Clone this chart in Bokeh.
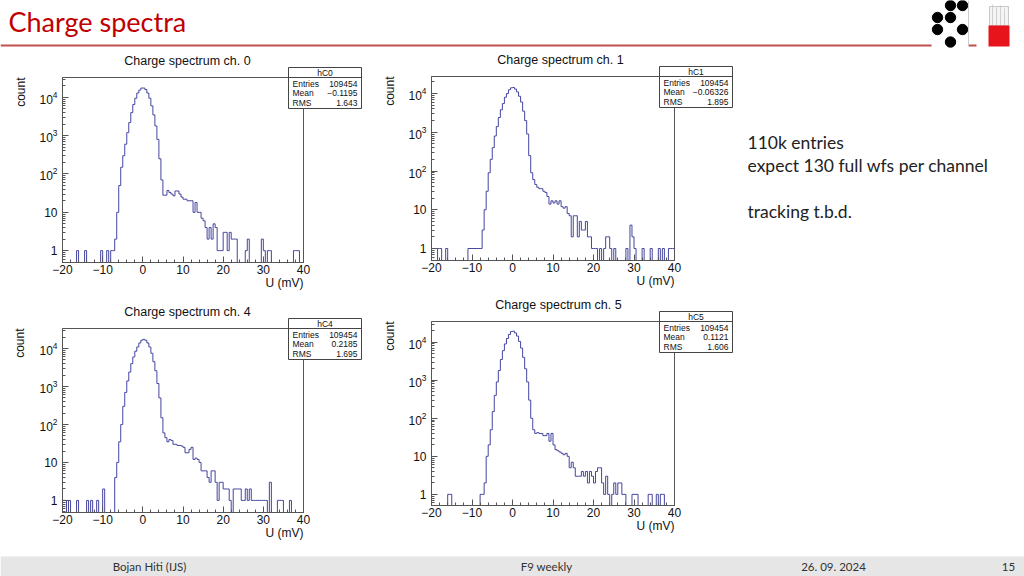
import math
from bokeh.plotting import figure
from bokeh.models import (Range1d, SingleIntervalTicker, LogTicker, LogTickFormatter)
from bokeh.layouts import row, column
from bokeh.embed import file_html
from bokeh.resources import INLINE
from bokeh.core.properties import value

# ---------------- data ----------------
X_MIN, X_MAX, BIN_W = -20.0, 40.0, 0.5
N_BINS = 120

counts_ch0 = [0,0,0,0,0,0,0,1,0,0,
              0,1,0,0,0,0,0,0,0,1,
              0,0,1,0,1,1,2,10,50,150,
              300,600,1200,2200,4000,6500,9500,13000,15500,17500,
              17500,16000,13000,9500,6000,3500,1800,800,250,70,
              28,28,37,33,30,27,36,36,30,25,
              22,22,20,20,20,10,18,10,10,7,
              6,4,2,4,2,5,4,1,1,1,
              3,3,1,3,2,2,2,0,0,0,
              0,1,2,0,0,0,0,0,0,2,
              1,0,1,1,0,0,0,0,0,0,
              0,0,0,0,0,1,1,1,0,0]
counts_ch1 = [0,0,0,1,1,0,0,1,0,0,
              0,0,0,0,0,0,0,0,1,1,
              1,1,1,1,1,3,10,30,90,200,
              400,800,1400,2400,3800,5500,8000,10000,12500,14000,
              14300,13000,11000,8500,6000,3500,2000,900,250,90,
              60,45,38,35,35,30,28,22,14,17,
              15,17,14,17,12,11,12,8,7,2,
              7,7,2,5,3,3,5,2,2,1,
              1,1,0,1,0,1,2,2,1,0,
              1,0,0,0,0,0,1,0,4,2,
              1,0,0,0,1,0,0,0,1,0,
              0,0,1,0,1,0,0,1,1,1]
counts_ch4 = [1,1,0,1,0,0,0,1,0,0,
              0,0,1,0,1,0,0,1,0,0,
              2,0,0,0,0,0,4,10,35,100,
              300,700,1400,2400,4000,6000,8500,11000,14000,16500,
              17500,16500,14000,11000,7500,4500,2600,1200,500,150,
              60,45,35,40,38,30,30,28,28,27,
              25,18,18,22,25,12,13,12,10,6,
              6,6,4,3,6,6,3,1,3,3,
              2,2,2,1,0,2,2,2,2,1,
              1,2,1,2,1,1,1,1,1,1,
              1,1,0,3,0,0,0,1,1,1,
              0,0,0,1,0,0,0,0,0,0]
counts_ch5 = [0,0,0,0,0,0,0,0,1,1,
              0,0,0,0,0,0,0,0,0,0,
              0,0,0,0,1,1,2,10,20,50,
              150,400,900,1800,3500,6000,9000,12500,16000,19000,
              19500,17500,14500,10500,7000,4000,2000,900,300,100,
              50,40,42,40,40,35,35,40,25,40,
              20,15,14,13,12,11,12,10,5,7,
              5,3,3,3,4,3,4,2,4,3,
              2,4,5,5,2,1,3,1,0,1,
              2,1,2,2,1,1,0,0,0,1,
              1,1,0,0,0,0,0,1,1,0,
              0,1,0,1,1,0,0,0,0,0]

channel_titles = ["Charge spectrum ch. 0", "Charge spectrum ch. 1",
                  "Charge spectrum ch. 4", "Charge spectrum ch. 5"]
stat_names = ["hC0", "hC1", "hC4", "hC5"]
stat_entries = ["109454", "109454", "109454", "109454"]
stat_means = ["\u22120.1195", "\u22120.06326", "0.2185", "0.1121"]
stat_rms = ["1.643", "1.895", "1.695", "1.606"]
stat_labels = ["Entries", "Mean", "RMS"]
x_tick_overrides = {-20: "\u221220", -10: "\u221210"}
x_axis_title = "U (mV)"
y_axis_title = "count"

notes = ["110k entries", "expect 130 full wfs per channel", "tracking t.b.d."]
footer_texts = ["Bojan Hiti (IJS)", "F9 weekly", "26. 09. 2024", "15"]
slide_title = "Charge spectra"

# ---------------- layout (page pixel geometry) ----------------
PAGE_W, PAGE_H = 1024, 576
PANELS = [
    dict(fx=0,   fy=0,   w=380, h=298, L=62,  R=303, T=77,  B=262, ylo=0.49, yhi=33000, tx=187),
    dict(fx=380, fy=0,   w=360, h=293, L=431, R=674, T=76,  B=260, ylo=0.49, yhi=27500, tx=560),
    dict(fx=0,   fy=298, w=380, h=278, L=61,  R=303, T=328, B=512, ylo=0.48, yhi=33700, tx=187),
    dict(fx=380, fy=293, w=360, h=283, L=431, R=674, T=321, B=505, ylo=0.51, yhi=35000, tx=558),
]

ROOT_FONT = "Liberation Sans"
HIST_COLOR = "#45459f"
FRAME_COLOR = "#555555"
TEXT_COLOR = "#111111"


def hist_fig(counts, g):
    p = figure(width=g["w"], height=g["h"], title=None,
               x_range=Range1d(X_MIN, X_MAX), y_range=Range1d(g["ylo"], g["yhi"]),
               y_axis_type="log", output_backend="svg", toolbar_location=None,
               min_border_left=g["L"] - g["fx"], min_border_right=g["fx"] + g["w"] - g["R"],
               min_border_top=g["T"] - g["fy"], min_border_bottom=g["fy"] + g["h"] - g["B"])
    p.grid.visible = False
    p.outline_line_color = FRAME_COLOR
    p.outline_line_width = 1
    p.background_fill_color = "white"
    p.border_fill_color = "white"

    edges = [X_MIN + BIN_W * i for i in range(N_BINS + 1)]
    ys = list(counts) + [counts[-1]]
    ys = [c if c > 0 else 0.01 for c in ys]
    p.step(x=edges, y=ys, mode="after", line_color=HIST_COLOR, line_width=1)

    xa = p.xaxis[0]
    xa.ticker = SingleIntervalTicker(interval=10, num_minor_ticks=5)
    xa.major_label_overrides = x_tick_overrides
    ya = p.yaxis[0]
    ya.ticker = LogTicker(num_minor_ticks=10)
    ya.formatter = LogTickFormatter(min_exponent=2)
    for ax in (xa, ya):
        ax.axis_line_color = FRAME_COLOR
        ax.major_tick_line_color = FRAME_COLOR
        ax.minor_tick_line_color = FRAME_COLOR
        ax.major_tick_in = 6
        ax.major_tick_out = 0
        ax.minor_tick_in = 3
        ax.minor_tick_out = 0
        ax.major_label_text_font = ROOT_FONT
        ax.major_label_text_font_size = "12px"
        ax.major_label_text_color = TEXT_COLOR
    xa.major_label_standoff = 2
    ya.major_label_standoff = 5
    return p


all_counts = [counts_ch0, counts_ch1, counts_ch4, counts_ch5]
figs = [hist_fig(all_counts[i], PANELS[i]) for i in range(4)]

# ---------------- transparent overlay with all slide texts / boxes ----------------
ov = figure(width=PAGE_W, height=PAGE_H, title=None,
            x_range=Range1d(0, PAGE_W), y_range=Range1d(PAGE_H, 0),
            x_axis_location=None, y_axis_location=None,
            output_backend="svg", toolbar_location=None, min_border=0,
            margin=(-PAGE_H, 0, 0, 0))
ov.grid.visible = False
ov.outline_line_color = None
ov.background_fill_alpha = 0
ov.border_fill_alpha = 0


def txt(xs, ys, texts, align, size, font=ROOT_FONT, color=TEXT_COLOR, baseline="middle", angle=0.0):
    ov.text(x=xs, y=ys, text=texts, text_font=value(font), text_font_size=value(size),
            text_color=color, text_align=align, text_baseline=baseline, angle=angle)


# panel titles and axis titles
txt([g["tx"] for g in PANELS], [g["T"] - 17 for g in PANELS], channel_titles, "center", "12.5px")
txt([g["R"] for g in PANELS], [g["B"] + 20 for g in PANELS], [x_axis_title] * 4, "right", "12px")
txt([g["L"] - 42 for g in PANELS], [g["T"] for g in PANELS], [y_axis_title] * 4, "right", "12px",
    angle=math.pi / 2)

# stats boxes
ov.quad(left=[g["R"] - 15 for g in PANELS], right=[g["R"] + 58 for g in PANELS],
        top=[g["T"] - 10 for g in PANELS], bottom=[g["T"] + 31 for g in PANELS],
        fill_color="white", line_color="#444444", line_width=1)
ov.segment(x0=[g["R"] - 15 for g in PANELS], x1=[g["R"] + 58 for g in PANELS],
           y0=[g["T"] for g in PANELS], y1=[g["T"] for g in PANELS],
           line_color="#444444", line_width=1)
txt([g["R"] + 21.5 for g in PANELS], [g["T"] - 5 for g in PANELS], stat_names, "center", "8.5px")
nx, ny, nt, vx, vt = [], [], [], [], []
for i, g in enumerate(PANELS):
    vals = [stat_entries[i], stat_means[i], stat_rms[i]]
    for j in range(3):
        nx.append(g["R"] - 11)
        vx.append(g["R"] + 54)
        ny.append(g["T"] + 6 + 9.5 * j)
        nt.append(stat_labels[j])
        vt.append(vals[j])
txt(nx, ny, nt, "left", "8.5px")
txt(vx, ny, vt, "right", "8.5px")

# header
txt([8], [21], [slide_title], "left", "27px", font="Lato", color="#c00000")
ov.segment(x0=[0, 968], x1=[931, 976], y0=[45, 45], y1=[45, 45],
           line_color="#c0504d", line_width=2)
ov.circle(x=[950, 962, 937, 950, 937, 962, 950], y=[5, 5, 17, 17, 29, 29, 41.5],
          radius=5.2, color="black")
ov.segment(x0=[968], x1=[968], y0=[0], y1=[46], line_color="#cccccc", line_width=1)
ov.quad(left=[989], right=[1008], top=[6], bottom=[25], fill_color="#f4f4f4",
        line_color="#bbbbbb", line_width=0.8)
ov.segment(x0=[992, 996, 1000, 1004], x1=[992, 996, 1000, 1004], y0=[4, 7, 5, 8], y1=[25, 25, 25, 25],
           line_color="#c8c8c8", line_width=0.8)
ov.quad(left=[988], right=[1009], top=[25], bottom=[46], fill_color="#e8141b", line_color=None)

# notes
txt([747, 747, 747], [142, 165, 211], notes, "left", "17.5px", font="Lato", color="#222222")

# footer
ov.quad(left=[0], right=[PAGE_W], top=[556], bottom=[PAGE_H], fill_color="#e7e6e6", line_color=None)
txt([149, 546, 833, 1008], [566, 566, 566, 566], footer_texts, "center", "11.5px",
    font="Lato", color="#333333")

hist_layer = row(column(figs[0], figs[2], spacing=0),
                 column(figs[1], figs[3], spacing=0), spacing=0)
layout = column(hist_layer, ov, spacing=0)

open("out.html", "w").write(file_html(layout, INLINE))
